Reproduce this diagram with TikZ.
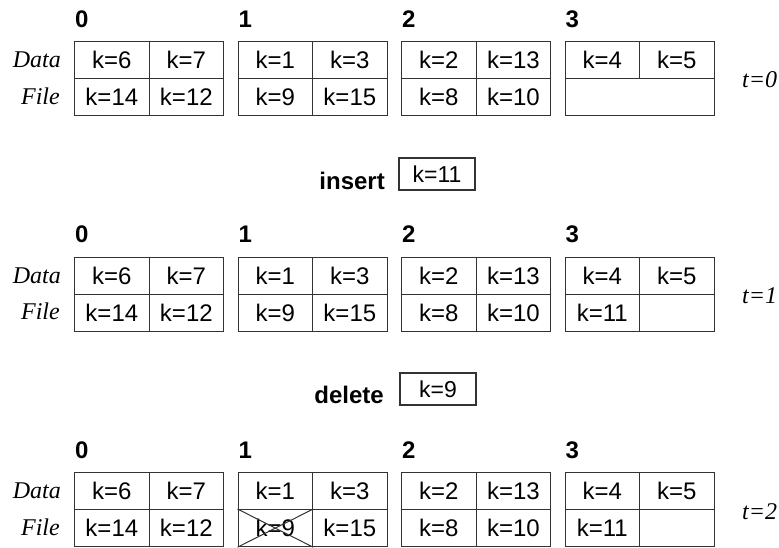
\documentclass[tikz,border=0pt]{standalone}
\usepackage{fontspec}
\newfontfamily\hvfont{Liberation Sans}
\newfontfamily\tmfont{Liberation Serif}
\begin{document}
\begin{tikzpicture}[x=1pt,y=-1pt,
  cell/.style={draw=black!80, line width=1.2pt, minimum width=74.5pt, minimum height=37pt,
    inner sep=0pt, anchor=north west, font=\hvfont\fontsize{24}{26}\selectfont},
  widecell/.style={cell, minimum width=149pt},
  keybox/.style={draw=black!80, line width=1.2pt, minimum width=76pt, minimum height=32pt,
    inner sep=0pt, font=\hvfont\fontsize{23}{25}\selectfont},
  bucketno/.style={anchor=base west, inner sep=0pt, font=\hvfont\bfseries\fontsize{24}{26}\selectfont},
  oplabel/.style={anchor=base east, inner sep=0pt, font=\hvfont\bfseries\fontsize{24}{26}\selectfont},
  sidelabel/.style={inner sep=0pt, font=\tmfont\itshape\fontsize{24}{26}\selectfont},
  timelabel/.style={anchor=west, inner sep=0pt, font=\tmfont\itshape\fontsize{24}{26}\selectfont}]
\useasboundingbox (0,0) rectangle (779,547);

% one bucket: name, left x, top y, four record texts
\newcommand{\bkt}[7]{%
  \node[cell] (#1a) at (#2,#3) {#4};
  \node[cell] (#1b) at (#2+74.5,#3) {#5};
  \node[cell] (#1c) at (#2,#3+37) {#6};
  \node[cell] (#1d) at (#2+74.5,#3+37) {#7};
}
% bucket numbers above one row of buckets
\newcommand{\bktnums}[2]{%
  \node[bucketno] (#1n0) at (75,#2-14) {0};
  \node[bucketno] (#1n1) at (238.5,#2-14) {1};
  \node[bucketno] (#1n2) at (402,#2-14) {2};
  \node[bucketno] (#1n3) at (565.5,#2-14) {3};
  \node[sidelabel, anchor=east] (#1data) at (61,#2+19) {Data};
  \node[sidelabel, anchor=east] (#1file) at (60,#2+55) {File};
}

% t = 0
\bktnums{r0}{41}
\bkt{r0b0}{74}{41}{k=6}{k=7}{k=14}{k=12}
\bkt{r0b1}{237.5}{41}{k=1}{k=3}{k=9}{k=15}
\bkt{r0b2}{401}{41}{k=2}{k=13}{k=8}{k=10}
\node[cell] (r0b3a) at (564.5,41) {k=4};
\node[cell] (r0b3b) at (639,41) {k=5};
\node[widecell] (r0b3c) at (564.5,78) {};
\node[timelabel] (t0) at (742,80) {t=0};

% insert
\node[oplabel] (ins) at (385,189) {insert};
\node[keybox] (insk) at (437,174) {k=11};

% t = 1
\bktnums{r1}{256.5}
\bkt{r1b0}{74}{256.5}{k=6}{k=7}{k=14}{k=12}
\bkt{r1b1}{237.5}{256.5}{k=1}{k=3}{k=9}{k=15}
\bkt{r1b2}{401}{256.5}{k=2}{k=13}{k=8}{k=10}
\bkt{r1b3}{564.5}{256.5}{k=4}{k=5}{k=11}{}
\node[timelabel] (t1) at (742,296) {t=1};

% delete
\node[oplabel] (del) at (384,403) {delete};
\node[keybox] (delk) at (438,389) {k=9};

% t = 2
\bktnums{r2}{472}
\bkt{r2b0}{74}{472}{k=6}{k=7}{k=14}{k=12}
\bkt{r2b1}{237.5}{472}{k=1}{k=3}{k=9}{k=15}
\bkt{r2b2}{401}{472}{k=2}{k=13}{k=8}{k=10}
\bkt{r2b3}{564.5}{472}{k=4}{k=5}{k=11}{}
\node[timelabel] (t2) at (742,512) {t=2};

% the deleted record is crossed out
\draw[black!80, line width=1pt] (r2b1c.north west) -- (r2b1c.south east)
  (r2b1c.south west) -- (r2b1c.north east);
\end{tikzpicture}
\end{document}
